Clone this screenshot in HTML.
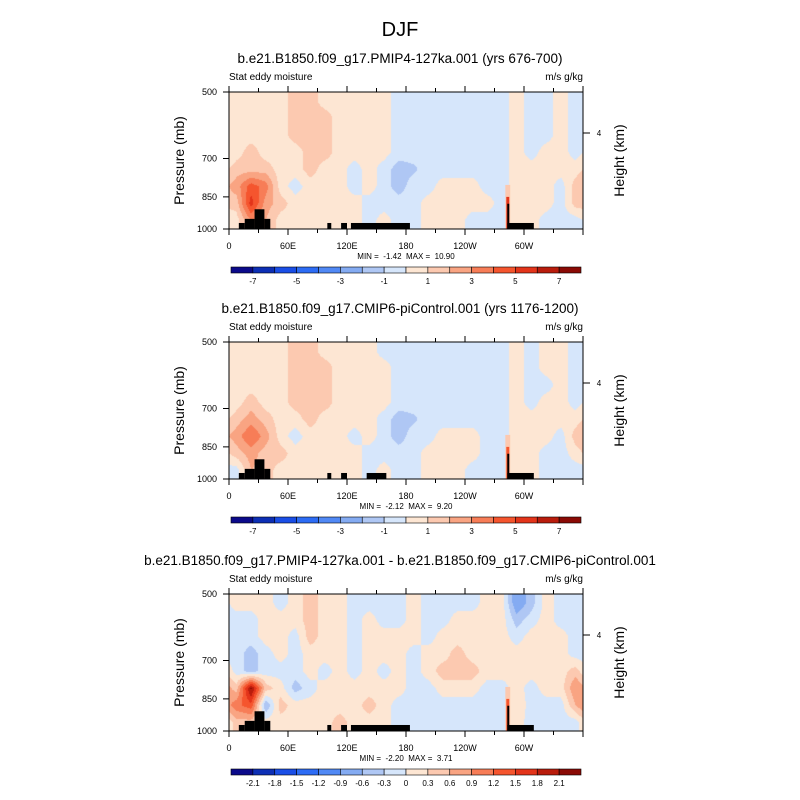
<!DOCTYPE html>
<html><head><meta charset="utf-8"><style>
body{margin:0;background:#fff;}
#wrap{position:relative;width:800px;height:800px;overflow:hidden;font-family:"Liberation Sans",sans-serif;}
canvas{position:absolute;}
svg{position:absolute;left:0;top:0;}
</style></head><body>
<div id="wrap">
<canvas id="f0"></canvas>
<canvas id="f1"></canvas>
<canvas id="f2"></canvas>
<svg id="svg" width="800" height="800"></svg>
</div>
<script>
// ---- data ----
const lonTicks=[0,60,120,180,240,300];
const lonTickLabels=["0","60E","120E","180","120W","60W"];
const presTicks=[500,700,850,1000];
const colorsLevels=["#0b0a8a","#0d2fb5","#1a4ee6","#2d6cf5","#5189f5","#84abf2","#afc7f4","#d6e6fb","#fde6d3","#fcc9b0","#f9a482","#f77d57","#f5552e","#e3341a","#b91c0c","#8a0a05"];
const cbLabels12=["-7","-5","-3","-1","1","3","5","7"];
const cbLabels3=["-2.1","-1.8","-1.5","-1.2","-0.9","-0.6","-0.3","0","0.3","0.6","0.9","1.2","1.5","1.8","2.1"];
const titles=["b.e21.B1850.f09_g17.PMIP4-127ka.001 (yrs 676-700)","b.e21.B1850.f09_g17.CMIP6-piControl.001 (yrs 1176-1200)","b.e21.B1850.f09_g17.PMIP4-127ka.001 - b.e21.B1850.f09_g17.CMIP6-piControl.001"];
const minMax=["MIN =  -1.42  MAX =  10.90","MIN =  -2.12  MAX =  9.20","MIN =  -2.20  MAX =  3.71"];
// columns every 15deg, rows 500->1000 top to bottom
const field1=[
[.5,.5,.5,.5,1.5,2.5,1.5,.5],[.5,.5,.5,1.5,1.5,4.5,5.5,3],[.5,.5,.5,.5,1.5,3.5,2.5,2],[.5,.5,.5,.5,.5,.5,1.5,.5],
[1.5,1.5,1.5,.5,.5,-.5,.5,.5],[1.5,1.5,1.5,1.5,1.5,.5,.5,.5],[.5,1.5,1.5,1.5,.5,.5,.5,.5],[.5,.5,.5,.5,.5,.5,.5,.5],
[.5,.5,.5,.5,-.5,-.5,.5,.5],[.5,.5,.5,.5,.5,.5,-.5,-.5],[.5,.5,.5,.5,-.5,-.5,-.5,.5],[-.5,-.5,-.5,-.5,-1.5,-1.5,-.5,-.5],
[-.5,-.5,-.5,-.5,-1.2,-.5,-.5,-.5],[-.5,-.5,-.5,-.5,-.5,-.5,.5,.5],[-.5,-.5,-.5,-.5,-.5,.5,.5,.5],[-.5,-.5,-.5,-.5,-.5,.5,.5,.5],
[-.5,-.5,-.5,-.5,-.5,.5,.5,-.5],[-.5,-.5,-.5,-.5,-.5,-.5,.5,-.5],[-.5,-.5,-.5,-.5,-.5,-.5,-.5,-.5],[.5,.5,.5,.5,.5,.5,.8,.5],
[-.5,-.5,-.5,-.5,.5,.5,.5,.5],[-.5,-.5,-.5,.5,.5,.5,.5,-.5],[.5,.5,.5,.5,.5,-.5,-.5,-.5],[-.5,-.5,-.5,-.5,.5,1.5,1.5,-.5]];
const field2=[
[.5,.5,.5,.5,1.5,2.5,1.5,-.5],[.5,.5,.5,1.5,2.5,4,2.5,2],[.5,.5,.5,.5,1.5,2.5,1.5,1.5],[.5,.5,.5,.5,.5,.5,1.5,.5],
[1.5,1.5,1.5,1.5,.5,-.5,.5,.5],[1.5,1.5,1.5,1.5,1.5,.5,.5,.5],[.5,1.5,1.5,1.5,.5,.5,.5,.5],[.5,.5,.5,.5,.5,.5,.5,.5],
[.5,.5,.5,.5,.5,-.5,.5,.5],[.5,.5,.5,.5,.5,.5,-.5,-.5],[-.5,.5,.5,.5,-.5,-.5,-.5,.5],[-.5,-.5,-.5,-.5,-1.5,-1.5,-.5,-.5],
[-.5,-.5,-.5,-.5,-1.2,-.5,-.5,-.5],[-.5,-.5,-.5,-.5,-.5,-.5,.5,.5],[-.5,-.5,-.5,-.5,-.5,.5,.5,.5],[-.5,-.5,-.5,-.5,-.5,.5,.5,.5],
[-.5,-.5,-.5,-.5,-.5,.5,.5,-.5],[-.5,-.5,-.5,-.5,-.5,-.5,-.5,-.5],[-.5,-.5,-.5,-.5,-.5,-.5,-.5,-.5],[.5,.5,.5,.5,.5,.5,.8,.5],
[-.5,-.5,-.5,-.5,.5,.5,.5,.5],[.5,.5,-.5,.5,.5,.5,-.5,-.5],[.5,.5,.5,.5,.5,-.5,-.5,-.5],[-.5,-.5,-.5,-.5,.5,1.5,.5,-.5]];
const field3=[
[.15,-.15,-.15,-.15,-.15,.45,1.1,.45],[.15,-.15,-.15,-.45,-.45,2.2,1.4,.45],[.15,.15,.15,-.15,-.15,.45,-.6,.15],[-.15,.15,.15,.15,-.15,.15,.45,.15],
[.15,.15,-.15,-.15,-.15,-.45,.15,.15],[.45,.45,.45,.15,.15,-.15,.15,.15],[.15,.15,.15,.15,-.15,.15,.15,.15],[.15,.15,.15,.15,.15,.15,.15,.45],
[-.15,-.15,-.15,-.15,-.15,.15,.15,.15],[-.15,.15,.15,.15,.15,.15,.45,.15],[-.15,-.15,.15,.15,-.15,.15,.15,.15],[-.15,-.15,.15,.15,.15,.15,-.15,-.15],
[.15,.15,.15,-.15,-.15,-.15,-.15,-.15],[-.15,-.15,-.15,.15,.15,-.15,-.15,-.15],[-.15,-.15,.15,.15,.45,.15,-.15,-.15],[-.15,.15,.15,.45,.45,.15,-.15,-.15],
[-.15,.15,.15,.15,.45,.15,-.15,-.15],[.15,.15,.15,.15,.15,-.15,-.15,-.15],[.15,.15,.15,.15,.15,-.15,-.15,-.15],[-.9,-.45,-.15,.15,.15,.15,.25,.15],
[-.45,-.15,.15,.15,.15,-.15,-.15,-.15],[.15,.15,.15,.15,.15,.15,-.15,-.15],[-.15,-.15,.15,.15,.15,.15,-.15,-.15],[-.15,-.15,-.15,-.15,.45,.9,.6,-.15]];
// narrow red spikes near 77W: [lonStart, lonEnd, topPressure, value]
const spikes1=[[281,286,800,1.5],[282,285,850,5.5]];
const spikes2=[[281,286,800,1.5],[282,285,850,4.5]];
const spikes3=[[281,286,800,0.45],[282,285,850,1.3]];
// terrain blocks: [lonStart, lonEnd, topPressure]
const terrainA=[[10,16,970],[16,26,950],[26,36,905],[36,42,950],[100,104,970],[114,120,970],[124,184,970],[283,285,880],[283,310,970]];
const terrainB=[[10,16,970],[16,26,950],[26,36,905],[36,42,950],[100,104,970],[114,120,970],[140,160,970],[283,285,880],[283,310,970]];
const steps=[1,1,0.3];
// ---- layout ----
const X0=229,X1=583,PH=137;
const tops=[92,342,594];
const NS="http://www.w3.org/2000/svg";
const svg=document.getElementById('svg');
function xs(lon){return X0+lon/360*(X1-X0);}
function ys(p,top){return top+PH-Math.log(1000/p)/Math.log(2)*PH;}
function mk(tag,at,txt,parent){const e=document.createElementNS(NS,tag);for(const k in at)e.setAttribute(k,at[k]);if(txt!=null)e.textContent=txt;(parent||svg).appendChild(e);return e;}
function lev(v,step){let i=Math.floor(v/step)+8;return Math.max(0,Math.min(15,i));}
function hex(c){return [parseInt(c.substr(1,2),16),parseInt(c.substr(3,2),16),parseInt(c.substr(5,2),16)];}
const rgb=colorsLevels.map(hex);
const fields=[field1,field2,field3];
const spikes=[spikes1,spikes2,spikes3];
const terrains=[terrainA,terrainB,terrainA];
function t(x,y,s,size,anchor,name,extra){const e=mk('text',Object.assign({x:x,y:y,'font-size':size,'text-anchor':anchor||'start',fill:'#000','xml:space':'preserve'},extra||{}),s);e.style.whiteSpace='pre';return e;}
t(400,36,"DJF",20,'middle','figure-title');
for(let k=0;k<3;k++){
  const top=tops[k],F=fields[k],nc=F.length,nr=F[0].length;
  const cv=document.getElementById('f'+k);const W=X1-X0,H=PH;
  cv.width=W;cv.height=H;cv.style.left=X0+'px';cv.style.top=top+'px';
  const ctx=cv.getContext('2d');const img=ctx.createImageData(W,H);
  for(let py=0;py<H;py++)for(let px=0;px<W;px++){
    let fx=(px+0.5)/W*nc-0.5,fy=(py+0.5)/H*nr-0.5;
    fy=Math.max(0,Math.min(nr-1,fy));
    let i0=Math.floor(fx),tx=fx-i0;let i1=i0+1;i0=(i0+nc)%nc;i1=(i1+nc)%nc;
    let j0=Math.floor(fy),ty=fy-j0,j1=Math.min(nr-1,j0+1);
    const v=(F[i0][j0]*(1-tx)+F[i1][j0]*tx)*(1-ty)+(F[i0][j1]*(1-tx)+F[i1][j1]*tx)*ty;
    const c=rgb[lev(v,steps[k])];const o=(py*W+px)*4;
    img.data[o]=c[0];img.data[o+1]=c[1];img.data[o+2]=c[2];img.data[o+3]=255;
  }
  ctx.putImageData(img,0,0);
  const g=mk('g',{});
  for(const s of spikes[k]){const r=mk('rect',{x:xs(s[0]),y:ys(s[2],top),width:xs(s[1])-xs(s[0]),height:top+PH-ys(s[2],top),fill:colorsLevels[lev(s[3],steps[k])]},null,g);
    }
  for(const b of terrains[k]){const r=mk('rect',{x:xs(b[0]),y:ys(b[2],top),width:xs(b[1])-xs(b[0]),height:top+PH-ys(b[2],top),fill:'#000'},null,g);
    }
  const fr=mk('rect',{x:X0,y:top,width:X1-X0,height:PH,fill:'none',stroke:'#000','stroke-width':1},null,g);
  
  t(400,top-29,titles[k],13.5,'middle','panel-title-'+(k+1));
  t(X0,top-12,"Stat eddy moisture",10,'start','panel-subtitle');
  t(X1,top-12,"m/s g/kg",10,'end','units-label');
  for(let lon=0;lon<=360;lon+=30){const x=xs(lon);const maj=lon%60==0;
    mk('line',{x1:x,x2:x,y1:top+PH,y2:top+PH+(maj?6:4),stroke:'#000'},null,g);
    mk('line',{x1:x,x2:x,y1:top,y2:top-(maj?6:4),stroke:'#000'},null,g);}
  lonTicks.forEach((lon,i)=>{t(xs(lon),top+PH+20,lonTickLabels[i],9,'middle','x-tick-label');});
  presTicks.forEach(p=>{const y=ys(p,top);mk('line',{x1:X0,x2:X0-6,y1:y,y2:y,stroke:'#000'},null,g);t(X0-12,y+3,String(p),9,'end','y-tick-label');});
  const hy=top+41;mk('line',{x1:X1,x2:X1+7,y1:hy,y2:hy,stroke:'#000'},null,g);t(X1+16,hy+3,"4",8,'middle','height-tick-label');
  t(184,top+PH/2,"Pressure (mb)",14,'middle','y-axis-title',{transform:`rotate(-90 184 ${top+PH/2})`});
  const hc=top+PH/2;
  t(624,hc,"Height (km)",14,'middle','right-axis-title',{transform:`rotate(-90 624 ${hc})`});
  t(406,top+PH+30,minMax[k],8,'middle','min-max-label');
  const cy=top+175,cw=(581-231)/16;
  colorsLevels.forEach((c,i)=>{const r=mk('rect',{x:231+i*cw,y:cy,width:cw,height:6,fill:c,stroke:'#000','stroke-width':0.6},null,g);
    });
  if(k<2)cbLabels12.forEach((s,i)=>{t(231+(2*i+1)*cw,cy+17,s,8,'middle','colorbar-label');});
  else cbLabels3.forEach((s,i)=>{t(231+(i+1)*cw,cy+17,s,8,'middle','colorbar-label');});
}
</script>
</body></html>
